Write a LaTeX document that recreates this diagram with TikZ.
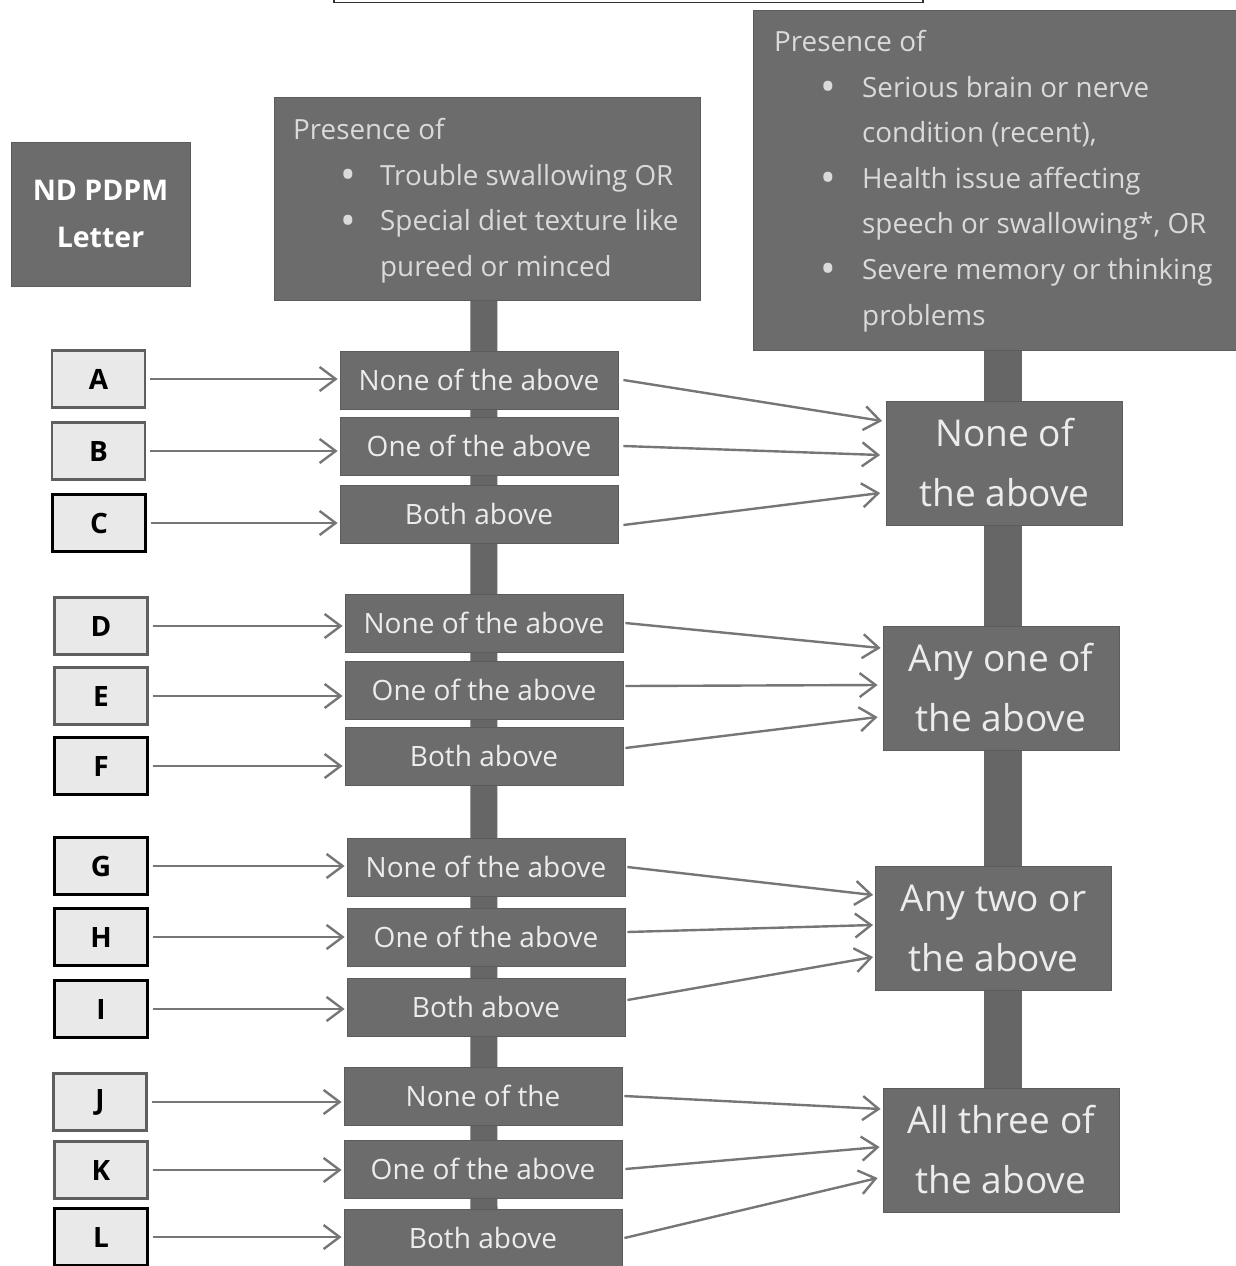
\documentclass[tikz,border=0pt]{standalone}
\usepackage{fontspec}
\setmainfont{Open Sans}
\usetikzlibrary{arrows.meta,backgrounds,calc}
\definecolor{boxgray}{RGB}{108,108,108}
\definecolor{bargray}{RGB}{102,102,102}
\definecolor{txtlight}{RGB}{236,236,236}
\definecolor{hdrtxt}{RGB}{218,218,218}
\definecolor{letterfill}{RGB}{233,233,233}
\definecolor{arrowgray}{RGB}{118,118,118}
\definecolor{lightedge}{RGB}{95,95,95}
\newcommand{\bul}{\raisebox{-4.5pt}{\scalebox{1.5}{•}}}
\tikzset{
  darkbox/.style={fill=boxgray, draw=boxgray!85!black, line width=0.8pt, text=txtlight, inner sep=0pt},
  midbox/.style={darkbox, minimum width=278pt, minimum height=58pt, font=\fontsize{28}{32}\selectfont},
  rbox/.style={darkbox, minimum width=236pt, minimum height=124pt, align=center, font=\fontsize{37}{60}\selectfont},
  letbox/.style={fill=letterfill, draw=#1, line width=2.2pt, minimum width=93pt, minimum height=57pt, inner sep=0pt, text=black, font=\fontsize{28}{32}\selectfont\bfseries},
  hdrtext/.style={text=hdrtxt, align=left, inner sep=0pt, font=\fontsize{27.8}{45.6}\selectfont},
  topbox/.style={draw=black!80, line width=1.5pt, fill=white, minimum width=589pt, minimum height=40pt, inner sep=0pt},
  arr/.style={draw=arrowgray, line width=2.4pt, -{Straight Barb[length=16pt,width=24pt,line width=2.4pt]}},
  barL/.style={draw=bargray, line width=27pt},
  barR/.style={draw=bargray, line width=38pt},
}
\begin{document}
\begin{tikzpicture}[x=1pt,y=-1pt]
\useasboundingbox (0,0) rectangle (1235,1266);

% cut-off box at the top
\node[topbox, anchor=south west] (top) at (333,3) {};

% title box
\node[darkbox, minimum width=179pt, minimum height=144pt, align=center, text=white,
      font=\fontsize{28.5}{47}\selectfont\bfseries] (nd) at (100.5,214) {ND PDPM\\Letter};

% header boxes
\node[darkbox, minimum width=426pt, minimum height=203pt, anchor=north west] (H1) at (274,97) {};
\node[hdrtext, anchor=north west] (H1t) at ([xshift=19pt,yshift=-21pt]H1.north west)
  {Presence of\\
   \hspace*{47pt}\makebox[40pt][l]{\bul}Trouble swallowing OR\\
   \hspace*{47pt}\makebox[40pt][l]{\bul}Special diet texture like\\
   \hspace*{87pt}pureed or minced};

\node[darkbox, minimum width=500pt, minimum height=340pt, anchor=north west] (H2) at (753,10) {};
\node[hdrtext, anchor=north west] (H2t) at ([xshift=21pt,yshift=-20pt]H2.north west)
  {Presence of\\
   \hspace*{46pt}\makebox[42pt][l]{\bul}Serious brain or nerve\\
   \hspace*{88pt}condition (recent),\\
   \hspace*{46pt}\makebox[42pt][l]{\bul}Health issue affecting\\
   \hspace*{88pt}speech or swallowing*, OR\\
   \hspace*{46pt}\makebox[42pt][l]{\bul}Severe memory or thinking\\
   \hspace*{88pt}problems};

% middle boxes
\node[midbox] (M1a) at (479,380) {None of the above};
\node[midbox] (M1b) at (479,446) {One of the above};
\node[midbox] (M1c) at (479,514) {Both above};
\node[midbox] (M2a) at (484,623) {None of the above};
\node[midbox] (M2b) at (484,690) {One of the above};
\node[midbox] (M2c) at (484,756) {Both above};
\node[midbox] (M3a) at (486,867) {None of the above};
\node[midbox] (M3b) at (486,937) {One of the above};
\node[midbox] (M3c) at (486,1007) {Both above};
\node[midbox] (M4a) at (483,1096) {None of the};
\node[midbox] (M4b) at (483,1169) {One of the above};
\node[midbox] (M4c) at (483,1238) {Both above};

% right boxes
\node[rbox] (R1) at (1004.5,463) {None of\\the above};
\node[rbox] (R2) at (1001,688) {Any one of\\the above};
\node[rbox] (R3) at (993.5,928) {Any two or\\the above};
\node[rbox] (R4) at (1001,1150) {All three of\\the above};

% letter boxes
\node[letbox=lightedge] (A) at (98.5,379) {A};
\node[letbox=lightedge] (B) at (98.5,451) {B};
\node[letbox=black]     (C) at (99,523) {C};
\node[letbox=lightedge] (D) at (101,626) {D};
\node[letbox=lightedge] (E) at (101,696) {E};
\node[letbox=black]     (F) at (101,766) {F};
\node[letbox=black]     (G) at (101,866) {G};
\node[letbox=black]     (H) at (101,937) {H};
\node[letbox=black]     (I) at (101,1009) {I};
\node[letbox=lightedge] (J) at (100,1102) {J};
\node[letbox=lightedge] (K) at (101,1170) {K};
\node[letbox=black]     (L) at (101,1237) {L};

% vertical bars behind the boxes
\coordinate (botL) at (484,1270);
\begin{pgfonlayer}{background}
  \draw[barL] ([xshift=-3.5pt]H1.south) -- (botL);
  \draw[barR] (H2.south) -- (H2.south |- R4.north);
\end{pgfonlayer}

% letter -> middle arrows
\foreach \l/\m in {A/M1a,B/M1b,C/M1c,D/M2a,E/M2b,F/M2c,G/M3a,H/M3b,I/M3c,J/M4a,K/M4b,L/M4c}{
  \draw[arr] ([xshift=4pt]\l.east) -- ([xshift=-2pt]\l.east -| \m.west);
}

% middle -> right arrows
\draw[arr] ([xshift=5pt]M1a.east) -- ([xshift=-4pt,yshift=42pt]R1.west);
\draw[arr] ([xshift=5pt]M1b.east) -- ([xshift=-6pt,yshift=8pt]R1.west);
\draw[arr] ([xshift=5pt,yshift=-11pt]M1c.east) -- ([xshift=-6pt,yshift=-30pt]R1.west);

\draw[arr] ([xshift=2pt]M2a.east) -- ([xshift=-2pt,yshift=40pt]R2.west);
\draw[arr] ([xshift=2pt,yshift=4pt]M2b.east) -- ([xshift=-5pt,yshift=3pt]R2.west);
\draw[arr] ([xshift=2pt,yshift=8pt]M2c.east) -- ([xshift=-5pt,yshift=-29pt]R2.west);

\draw[arr] ([xshift=2pt]M3a.east) -- ([xshift=-2pt,yshift=33pt]R3.west);
\draw[arr] ([xshift=2pt,yshift=5pt]M3b.east) -- ([xshift=-2pt,yshift=3pt]R3.west);
\draw[arr] ([xshift=2pt,yshift=7pt]M3c.east) -- ([xshift=-2pt,yshift=-29pt]R3.west);

\draw[arr] ([xshift=2pt]M4a.east) -- ([xshift=-2pt,yshift=41pt]R4.west);
\draw[arr] ([xshift=3pt]M4b.east) -- ([xshift=-3pt,yshift=3pt]R4.west);
\draw[arr] ([xshift=2pt]M4c.east) -- ([xshift=-5pt,yshift=-28pt]R4.west);
\end{tikzpicture}
\end{document}
